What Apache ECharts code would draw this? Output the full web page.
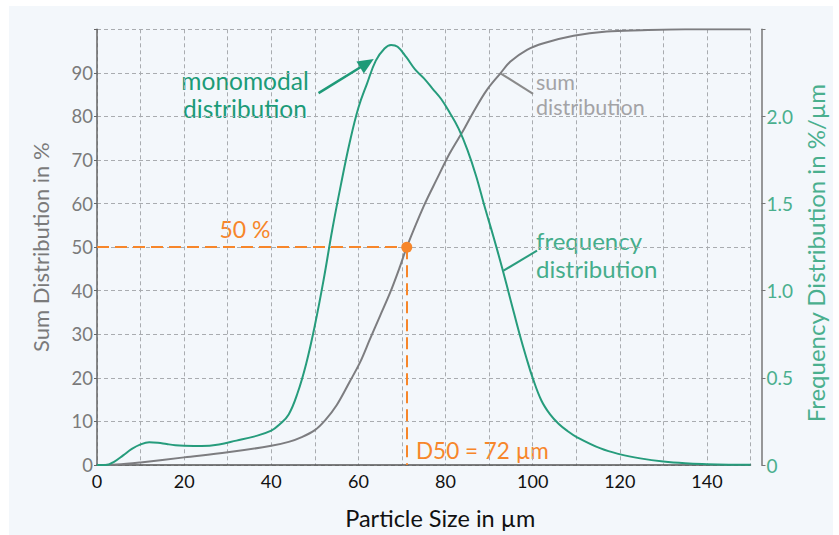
<!DOCTYPE html>
<html>
<head>
<meta charset="utf-8">
<script src="https://cdn.jsdelivr.net/npm/echarts@6/dist/echarts.min.js"></script>
<style>
html,body{margin:0;padding:0;background:#ffffff;}
#wrap{position:relative;width:839px;height:535px;background:#ffffff;overflow:hidden;}
#panel{position:absolute;left:9px;top:6px;width:824px;height:529px;background:#f3f7fb;}
#chart{position:absolute;left:0;top:0;width:839px;height:535px;}
</style>
</head>
<body>
<div id="wrap"><div id="panel"></div><div id="chart"></div></div>
<script>
// Particle size (µm) and cumulative sum distribution (%)
const sumX = [0, 4.5, 10, 20, 30, 40, 44, 47, 50, 52.4, 55, 58, 60.4, 62.7, 65, 67.3, 69.6, 71.1, 75, 78, 81, 84.2, 86.5, 89.5, 92.6, 94.9, 98.7, 102.5, 109.4, 117, 125, 135, 150];
const sumY = [0, 0.1, 0.6, 1.75, 2.9, 4.4, 5.3, 6.4, 8.0, 10.3, 13.7, 19.1, 23.6, 29.0, 34.3, 39.6, 45.7, 50.0, 59.4, 65.6, 71.6, 77.0, 81.2, 86.1, 89.9, 92.6, 95.3, 96.8, 98.5, 99.5, 99.8, 100, 100];
// Particle size (µm) and frequency distribution (%/µm)
const freqX = [0, 2, 4, 6, 8, 10, 12, 14, 16, 18, 20, 24, 28, 32, 36, 40, 42, 44, 46, 48, 50, 52, 54, 56, 58, 60, 62, 64, 66, 67.5, 69, 71, 73, 75, 77, 79, 81, 83, 85, 87, 89, 91, 93, 95, 97, 98.5, 100, 102, 104, 106, 108, 110, 115.6, 120.1, 124.7, 130, 135, 140, 145, 150];
const freqY = [0, 0, 0.02, 0.055, 0.092, 0.118, 0.13, 0.127, 0.12, 0.114, 0.111, 0.109, 0.118, 0.14, 0.163, 0.197, 0.235, 0.29, 0.41, 0.58, 0.80, 1.06, 1.35, 1.61, 1.85, 2.05, 2.19, 2.32, 2.39, 2.41, 2.40, 2.34, 2.27, 2.22, 2.16, 2.10, 2.02, 1.93, 1.81, 1.66, 1.48, 1.31, 1.13, 0.94, 0.75, 0.62, 0.50, 0.37, 0.29, 0.235, 0.195, 0.162, 0.095, 0.061, 0.038, 0.02, 0.01, 0.005, 0.002, 0.001];
// Axis ticks
const xTicks = [0, 20, 40, 60, 80, 100, 120, 140];
const leftTicks = [0, 10, 20, 30, 40, 50, 60, 70, 80, 90];
const rightTicks = [0, 0.5, 1.0, 1.5, 2.0];
// Median
const d50X = 71.1;
const d50Y = 50;
// Annotation anchor points (data coordinates on left axis)
const arrowLine = [[50.85, 85.35], [61.96, 92.2]];
const sumLeader = [[92.6, 89.9], [100.1, 85.2]];
const freqLeader = [[93.3, 44.6], [101.0, 49.2]];

const FONT = 'Lato';
const chart = echarts.init(document.getElementById('chart'), null, {renderer: 'svg'});

const sumData = sumX.map((x, i) => [x, sumY[i]]);
const freqData = freqX.map((x, i) => [x, freqY[i]]);

const gridDash = {color: '#a9acb0', type: [4, 3], width: 1};

chart.setOption({
  backgroundColor: 'transparent',
  animation: false,
  grid: {left: 97, right: 88.5, top: 29.3, bottom: 68.3, containLabel: false},
  xAxis: {
    type: 'value', min: 0, max: 150, interval: 10,
    name: 'Particle Size in µm', nameLocation: 'middle', nameGap: 41,
    nameTextStyle: {fontFamily: FONT, fontSize: 23.5, color: '#111', padding: [0, 0, 0, 33]},
    axisLine: {show: true, lineStyle: {color: '#555', width: 1.5}},
    axisTick: {show: false},
    axisLabel: {fontFamily: FONT, fontSize: 18, color: '#111', margin: 7,
      formatter: v => xTicks.indexOf(v) >= 0 ? String(v) : ''},
    splitLine: {show: true, lineStyle: gridDash}
  },
  yAxis: [{
    type: 'value', min: 0, max: 100, interval: 10, position: 'left',
    name: 'Sum Distribution in %', nameLocation: 'middle', nameGap: 46, nameRotate: 90,
    nameTextStyle: {fontFamily: FONT, fontSize: 22, color: '#7a7a7a'},
    axisLine: {show: true, lineStyle: {color: '#666', width: 1.5}},
    axisTick: {show: true, length: 3, lineStyle: {color: '#666'}},
    axisLabel: {fontFamily: FONT, fontSize: 18.5, color: '#7a7a7a', margin: 4,
      formatter: v => leftTicks.indexOf(v) >= 0 ? String(v) : ''},
    splitLine: {show: true, lineStyle: gridDash}
  }, {
    type: 'value', min: 0, max: 2.5, interval: 0.5, position: 'right', offset: 11,
    name: 'Frequency Distribution in %/µm', nameLocation: 'middle', nameGap: 37, nameRotate: 90,
    nameTextStyle: {fontFamily: FONT, fontSize: 24, color: '#4aaf8e', padding: [0, 12, 0, 0]},
    axisLine: {show: true, lineStyle: {color: '#777', width: 1.5}},
    axisTick: {show: true, length: 4, lineStyle: {color: '#777'}},
    axisLabel: {fontFamily: FONT, fontSize: 19, color: '#4aaf8e', margin: 5,
      formatter: v => {
        const i = rightTicks.findIndex(t => Math.abs(t - v) < 1e-9);
        if (i < 0) return '';
        return v === 0 ? '0' : v.toFixed(1);
      }},
    splitLine: {show: false}
  }],
  series: [{
    name: 'sum distribution', type: 'line', yAxisIndex: 0, data: sumData,
    showSymbol: false, smooth: 0.35, silent: true,
    lineStyle: {color: '#7d7d80', width: 2}, z: 3,
    markLine: {
      silent: true, symbol: 'none', label: {show: false},
      lineStyle: {color: '#f7862a', width: 2, type: [12, 6]},
      data: [
        [{coord: [0, d50Y]}, {coord: [d50X, d50Y]}],
        [{coord: [d50X, d50Y]}, {coord: [d50X, 0]}],
        [{coord: sumLeader[0], lineStyle: {color: '#8a8a8a', width: 2, type: 'solid'}},
         {coord: sumLeader[1]}],
        [{coord: freqLeader[0], lineStyle: {color: '#2a9d7e', width: 2, type: 'solid'}},
         {coord: freqLeader[1]}],
        [{coord: arrowLine[0], symbol: 'none', lineStyle: {color: '#1e9a78', width: 2.5, type: 'solid'}},
         {coord: arrowLine[1], symbol: 'triangle', symbolSize: [14, 16]}]
      ]
    },
    markPoint: {
      silent: true, symbol: 'circle', symbolSize: 11,
      itemStyle: {color: '#f7862a'}, label: {show: false},
      data: [{coord: [d50X, d50Y]}]
    }
  }, {
    name: 'frequency distribution', type: 'line', yAxisIndex: 1, data: freqData,
    showSymbol: false, smooth: 0.4, silent: true,
    lineStyle: {color: '#269c7c', width: 2}, z: 4
  }],
  graphic: [
    {type: 'text', x: 245, y: 80, style: {text: 'monomodal', fontFamily: FONT, fontSize: 24.5, fill: '#1c9b78', align: 'center', verticalAlign: 'middle'}},
    {type: 'text', x: 245, y: 108, style: {text: 'distribution', fontFamily: FONT, fontSize: 24.5, fill: '#1c9b78', align: 'center', verticalAlign: 'middle'}},
    {type: 'text', x: 536, y: 82, style: {text: 'sum', fontFamily: FONT, fontSize: 21.5, fill: '#a3a3a6', align: 'left', verticalAlign: 'middle'}},
    {type: 'text', x: 536, y: 107, style: {text: 'distribution', fontFamily: FONT, fontSize: 21.5, fill: '#a3a3a6', align: 'left', verticalAlign: 'middle'}},
    {type: 'text', x: 536, y: 240, style: {text: 'frequency', fontFamily: FONT, fontSize: 24, fill: '#45ad8b', align: 'left', verticalAlign: 'middle'}},
    {type: 'text', x: 536, y: 268, style: {text: 'distribution', fontFamily: FONT, fontSize: 24, fill: '#45ad8b', align: 'left', verticalAlign: 'middle'}},
    {type: 'text', x: 245, y: 229, style: {text: '50 %', fontFamily: FONT, fontSize: 23, fill: '#f7862a', align: 'center', verticalAlign: 'middle'}},
    {type: 'text', x: 416, y: 450, style: {text: 'D50 = 72 µm', fontFamily: FONT, fontSize: 22.5, fill: '#f7862a', align: 'left', verticalAlign: 'middle'}}
  ]
});
</script>
</body>
</html>
